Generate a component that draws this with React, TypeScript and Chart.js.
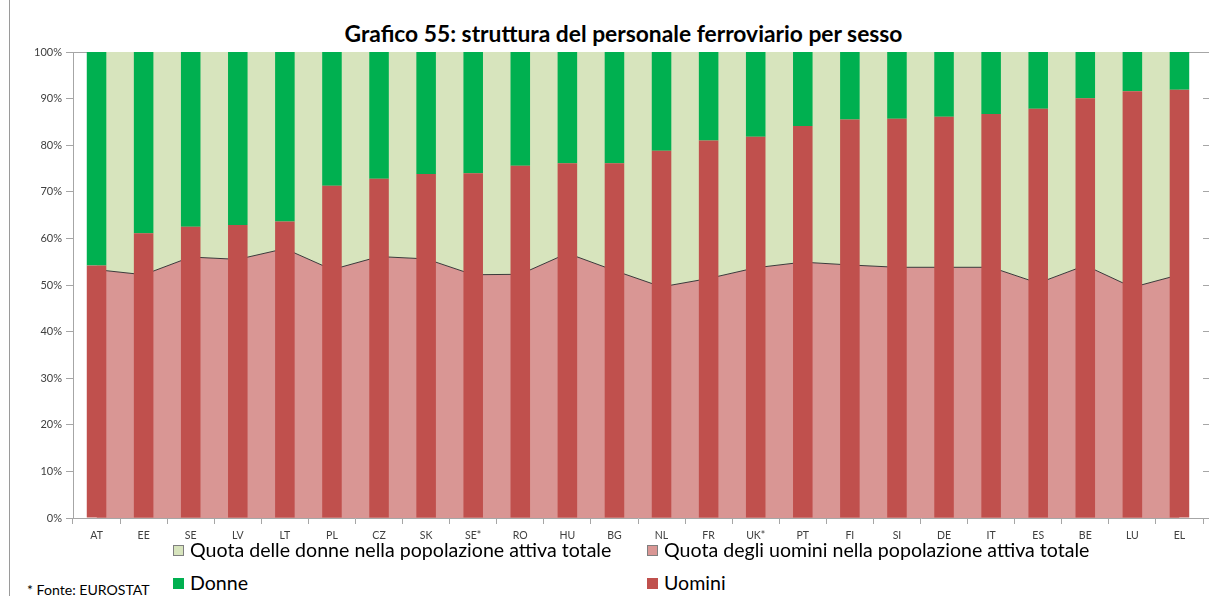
import React, { useEffect, useRef } from "react";
import { Chart, registerables } from "chart.js";

Chart.register(...registerables);

const categories = ["AT","EE","SE","LV","LT","PL","CZ","SK","SE*","RO","HU","BG","NL","FR","UK*","PT","FI","SI","DE","IT","ES","BE","LU","EL"];
const uomini = [54.2,61.1,62.5,62.9,63.6,71.3,72.8,73.8,74.0,75.6,76.1,76.1,78.8,81.0,81.8,84.1,85.5,85.7,86.1,86.7,87.8,90.1,91.6,91.9];
const donne = [45.8,38.9,37.5,37.1,36.4,28.7,27.2,26.2,26.0,24.4,23.9,23.9,21.2,19.0,18.2,15.9,14.5,14.3,13.9,13.3,12.2,9.9,8.4,8.1];
const quotaUomini = [53.3,52.2,56.0,55.5,57.8,53.3,56.1,55.6,52.2,52.3,56.8,53.1,49.6,51.4,53.7,54.9,54.3,53.8,53.8,53.8,50.4,54.2,49.5,52.2];
const quotaDonne = [46.7,47.8,44.0,44.5,42.2,46.7,43.9,44.4,47.8,47.7,43.2,46.9,50.4,48.6,46.3,45.1,45.7,46.2,46.2,46.2,49.6,45.8,50.5,47.8];
const yTicks = [0,10,20,30,40,50,60,70,80,90,100];

const TITLE = "Grafico 55: struttura del personale ferroviario per sesso";
const L_QD = "Quota delle donne nella popolazione attiva totale";
const L_QU = "Quota degli uomini nella popolazione attiva totale";
const L_D = "Donne";
const L_U = "Uomini";
const SOURCE = "* Fonte: EUROSTAT";

const C_U = "#C0504D";
const C_D = "#00B050";
const C_QU = "#D99694";
const C_QD = "#D7E4BD";
const AXIS = "#A6A6A6";
const FONT = "Lato, 'Open Sans', sans-serif";

export default function App() {
  const ref = useRef<HTMLCanvasElement | null>(null);
  useEffect(() => {
    if (!ref.current) return;
    const chart = new Chart(ref.current, {
      type: "bar",
      data: {
        labels: categories,
        datasets: [
          { type: "bar", label: L_U, data: uomini, backgroundColor: C_U, stack: "bars", order: 0, barPercentage: 0.415, categoryPercentage: 1 } as any,
          { type: "bar", label: L_D, data: donne, backgroundColor: C_D, stack: "bars", order: 0, barPercentage: 0.415, categoryPercentage: 1 } as any,
          { type: "line", label: L_QU, data: quotaUomini, backgroundColor: C_QU, borderColor: "#3a3a3a", borderWidth: 1, fill: "origin", pointRadius: 0, tension: 0, stack: "area", order: 1 } as any,
          { type: "line", label: L_QD, data: quotaDonne, backgroundColor: C_QD, borderColor: "rgba(0,0,0,0)", borderWidth: 0, fill: "-1", pointRadius: 0, tension: 0, stack: "area", order: 2 } as any,
        ],
      },
      options: {
        animation: false,
        responsive: false,
        maintainAspectRatio: false,
        layout: { padding: { top: 52, left: 0, right: 0, bottom: 0 } },
        plugins: { legend: { display: false }, title: { display: false }, tooltip: { enabled: false } },
        scales: {
          x: {
            stacked: true,
            offset: true,
            grid: { offset: true, drawOnChartArea: false, drawTicks: true, tickLength: 6, color: AXIS },
            border: { color: AXIS },
            ticks: { font: { family: FONT, size: 10.5 }, color: "#404040", padding: 5, maxRotation: 0, autoSkip: false },
            afterFit: (s: any) => { s.height = 27; },
          },
          y: {
            stacked: true,
            min: 0,
            max: 100,
            afterBuildTicks: (s: any) => { s.ticks = yTicks.map((v) => ({ value: v })); },
            ticks: { font: { family: FONT, size: 11 }, color: "#404040", padding: 4, callback: (v: any) => v + "%" },
            grid: { color: (c: any) => (c.tick && c.tick.value === 100 ? AXIS : "rgba(0,0,0,0)"), tickColor: AXIS, tickLength: 7, drawOnChartArea: true },
            border: { color: AXIS },
            z: 1,
            afterFit: (s: any) => { s.width = 73; },
          } as any,
          y2: {
            position: "right",
            min: 0,
            max: 100,
            afterBuildTicks: (s: any) => { s.ticks = yTicks.map((v) => ({ value: v })); },
            ticks: { display: false },
            grid: { drawOnChartArea: false, tickLength: 6, color: AXIS },
            border: { display: false },
            afterFit: (s: any) => { s.width = 6; },
          } as any,
        },
      },
    });
    return () => chart.destroy();
  }, []);

  const legText: React.CSSProperties = { position: "absolute", fontFamily: FONT, fontSize: 19.6, color: "#000", whiteSpace: "nowrap", lineHeight: "24px" };
  const box = (bg: string, border: string, left: number, top: number): React.CSSProperties => ({
    position: "absolute", left, top, width: 11, height: 11, background: bg, border: `1px solid ${border}`, boxSizing: "border-box",
  });

  return (
    <div style={{ position: "absolute", left: 0, top: 0, width: 1209, height: 596, overflow: "hidden", background: "#fff" }}>
      <div style={{ position: "absolute", left: 9, top: 0, width: 1, height: 596, background: "#9a9a9a" }} />
      <div style={{ position: "absolute", left: 0, width: 1247, top: 19, textAlign: "center", fontFamily: FONT, fontWeight: 700, fontSize: 22.8, lineHeight: "28px", color: "#000", whiteSpace: "nowrap" }}>{TITLE}</div>
      <canvas ref={ref} width={1209} height={545} style={{ position: "absolute", left: 0, top: 0, width: 1209, height: 545 }} />
      <div style={box(C_QD, "#7f7f7f", 173, 545)} />
      <div style={{ ...legText, left: 190, top: 538 }}>{L_QD}</div>
      <div style={box(C_QU, "#7f7f7f", 647, 545)} />
      <div style={{ ...legText, left: 664, top: 538 }}>{L_QU}</div>
      <div style={box(C_D, C_D, 173, 578)} />
      <div style={{ ...legText, left: 190, top: 571 }}>{L_D}</div>
      <div style={box(C_U, C_U, 647, 578)} />
      <div style={{ ...legText, left: 664, top: 571 }}>{L_U}</div>
      <div style={{ position: "absolute", left: 27, top: 581, fontFamily: FONT, fontSize: 14.1, color: "#000", whiteSpace: "nowrap" }}>{SOURCE}</div>
    </div>
  );
}
